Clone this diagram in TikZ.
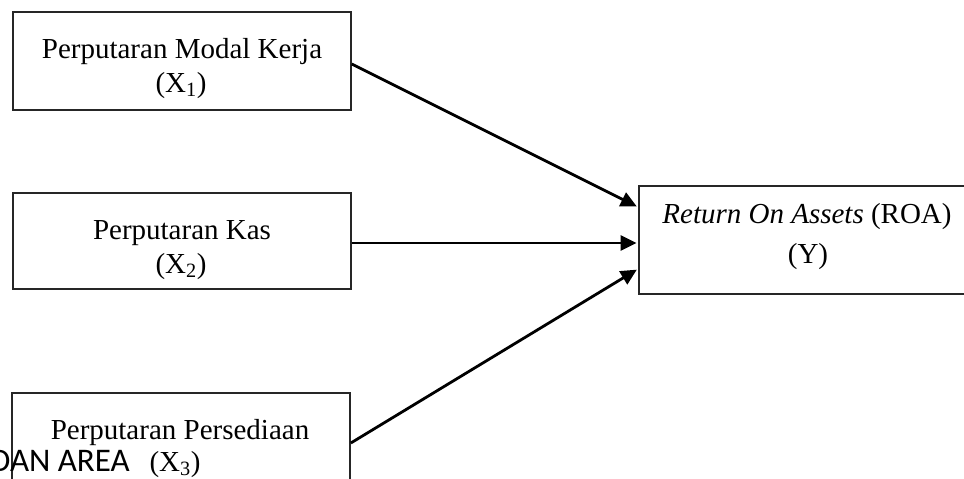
\documentclass[tikz,border=0pt]{standalone}
\usepackage{fontspec}
\setmainfont{Liberation Serif}
\newfontfamily\wmfont{Carlito}
\usetikzlibrary{arrows.meta}
\begin{document}
\begin{tikzpicture}[x=1pt,y=-1pt,
  box/.style={draw=black!85, line width=1.7pt, minimum width=#1, inner sep=0pt},
  box/.default=338pt,
  txt/.style={font=\fontsize{29}{35}\selectfont, anchor=base, inner sep=0pt},
  arr/.style={line width=2.8pt, -{Triangle[length=16pt,width=15pt]}, shorten >=1.5pt}]
\useasboundingbox (0,0) rectangle (964,479);
\clip (0,0) rectangle (964,479);
% boxes
\node[box, minimum height=98pt] (b1) at (182,61) {};
\node[box, minimum height=96pt] (b2) at (182,241) {};
\node[box, minimum height=98pt] (b3) at (181,442) {};
\node[box=337pt, minimum height=108pt] (y) at (807.5,240) {};
% texts
\node[txt] (t1a) at (182,58) {Perputaran Modal Kerja};
\node[txt] (t1b) at (181,92) {(X\textsubscript{1})};
\node[txt] (t2a) at (182,239) {Perputaran Kas};
\node[txt] (t2b) at (181,273) {(X\textsubscript{2})};
\node[txt] (t3a) at (180,439) {Perputaran Persediaan};
\node[txt] (t3b) at (175,471) {(X\textsubscript{3})};
\node[txt] (tya) at (807,223) {\textit{Return On Assets} (ROA)};
\node[txt] (tyb) at (808,263) {(Y)};
\node[font=\wmfont\fontsize{33}{38}\selectfont, anchor=base west, inner sep=0pt] (wm) at (-10,471) {DAN AREA};
% arrows
\coordinate (s1) at ([yshift=-3pt]b1.east);
\coordinate (e1) at ([yshift=-22pt]y.north west);
\coordinate (s2) at ([yshift=-2pt]b2.east);
\coordinate (e2) at ([yshift=-3pt]y.west);
\coordinate (s3) at ([yshift=-1pt]b3.east);
\coordinate (e3) at ([yshift=26pt]y.south west);
\draw[arr] (s1) -- (e1);
\draw[arr] (s2) -- (e2);
\draw[arr] (s3) -- (e3);
\end{tikzpicture}
\end{document}
